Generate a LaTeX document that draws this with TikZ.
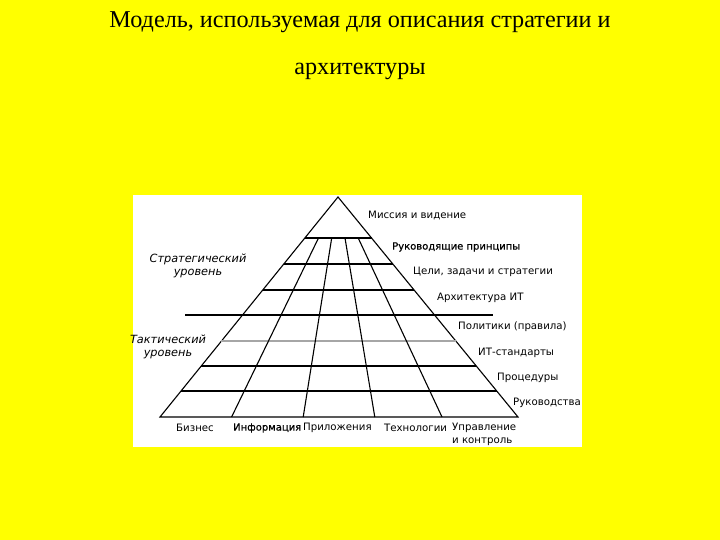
\documentclass[tikz,border=0pt]{standalone}
\usepackage{fontspec}
\setmainfont{Liberation Serif}
\newfontfamily\labfont{DejaVu Sans}
\newfontfamily\semifont[FakeBold=0.5]{DejaVu Sans}
\definecolor{bgyellow}{RGB}{255,255,0}
\begin{document}
\begin{tikzpicture}[x=1pt,y=-1pt,
  lab/.style={font=\labfont\fontsize{10.2}{13}\selectfont, inner sep=0pt, anchor=west},
  blab/.style={lab, font=\semifont\fontsize{10}{13}\selectfont},
  side/.style={font=\labfont\itshape\fontsize{11.3}{13}\selectfont, inner sep=0pt, align=center},
  grid/.style={line width=1.1pt, black}]
\useasboundingbox (0,0) rectangle (720,540);
\fill[bgyellow] (0,0) rectangle (720,540);
\fill[white] (133,195) rectangle (582,447);
% title
\node[font=\fontsize{24.2}{28}\selectfont, inner sep=0pt] (t1) at (360,22) {Модель, используемая для описания стратегии и};
\node[font=\fontsize{24.2}{28}\selectfont, inner sep=0pt] (t2) at (360,71) {архитектуры};
% pyramid
\coordinate (apex) at (338,197);
\coordinate (bl) at (160,417);
\coordinate (br) at (518,417);
\draw[grid] (apex) -- (bl) -- (br) -- cycle;
\foreach \y in {238,264,290,366,391}
  \draw[grid] ({338-0.80909*(\y-197)},\y) -- ({338+0.81818*(\y-197)},\y);
\draw[line width=1.1pt, gray!70] ({338-0.80909*(341-197)},341) -- ({338+0.81818*(341-197)},341);
\draw[line width=2.8pt] (185,315) -- (493,315);
% dividers
\foreach \a/\b in {318.5/231.6, 331.7/303.2, 345/374.8, 358.2/442}
  \draw[grid] (\a,238) -- (\b,417);
% right labels
\node[lab] (l1) at (368,215) {Миссия и видение};
\node[blab] (l2) at (392,247) {Руководящие принципы};
\node[lab] (l3) at (413,272) {Цели, задачи и стратегии};
\node[lab] (l4) at (437,298) {Архитектура ИТ};
\node[lab] (l5) at (458,327) {Политики (правила)};
\node[lab] (l6) at (478,353) {ИТ-стандарты};
\node[lab] (l7) at (497,378) {Процедуры};
\node[lab] (l8) at (513,403) {Руководства};
% bottom labels
\node[lab] (b1) at (176,428) {Бизнес};
\node[blab] (b2) at (233,428) {Информация};
\node[lab] (b3) at (303,428) {Приложения};
\node[lab] (b4) at (384,428) {Технологии};
\node[lab, align=left] (b5) at (452,434.5) {Управление\\ и контроль};
% side labels
\node[side] (s1) at (198,266) {Стратегический\\ уровень};
\node[side] (s2) at (168,347) {Тактический\\ уровень};
\end{tikzpicture}
\end{document}
